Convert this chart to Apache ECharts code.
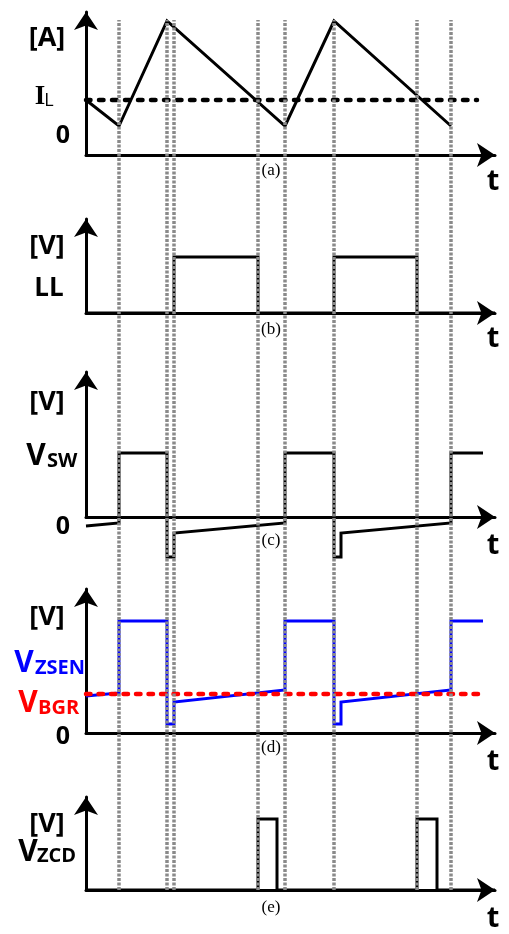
<!DOCTYPE html>
<html>
<head>
<meta charset="utf-8">
<script src="https://cdn.jsdelivr.net/npm/echarts@6/dist/echarts.min.js"></script>
<style>
  html, body { margin: 0; padding: 0; background: #fff; }
  #chart { width: 509px; height: 934px; }
</style>
</head>
<body>
<div id="chart"></div>
<script>
// Shared time axis (arbitrary units) for all five waveforms
const T_MAX = 409;

// Switching instants, marked by dotted guides through every panel
const eventTimes = [33, 81, 88, 172, 199, 248, 331, 365];

// (a) inductor current I_L and its average level
const iL = [[0, 55], [33, 29], [81, 134], [199, 29], [248, 134], [365, 29]];
const iLAvg = [[0, 55], [391, 55]];

// (b) low-side gate signal LL
const ll = [[0, 0], [88, 0], [88, 56], [172, 56], [172, 0], [248, 0], [248, 56], [331, 56], [331, 0], [409, 0]];

// (c) switching node voltage V_SW
const vSw = [[0, -9], [33, -6], [33, 64], [81, 64], [81, -40], [88, -40], [88, -16], [199, -6], [199, 64],
             [248, 64], [248, -40], [255, -40], [255, -16], [365, -6], [365, 64], [397, 64]];

// (d) zero-current sense voltage V_ZSEN and bandgap reference V_BGR
const vZsen = [[0, 37], [33, 40], [33, 112], [81, 112], [81, 9], [88, 9], [88, 31], [199, 43], [199, 112],
               [248, 112], [248, 9], [255, 9], [255, 31], [365, 43], [365, 112], [397, 112]];
const vBgr = [[0, 39], [394, 39]];

// (e) zero-current detector output V_ZCD
const vZcd = [[0, 0], [172, 0], [172, 71], [191, 71], [191, 0], [331, 0], [331, 71], [351, 71], [351, 0], [409, 0]];

// Panel frames: top of the y axis and the x-axis baseline (px)
const panels = [
  { top: 12, axis: 155 },
  { top: 219, axis: 313 },
  { top: 372, axis: 517 },
  { top: 589, axis: 733 },
  { top: 797, axis: 890 }
];

const LEFT = 86, RIGHT = 14;
const AXIS_W = 3;
const sans = '"Open Sans", "DejaVu Sans", sans-serif';
const serif = '"Liberation Serif", "DejaVu Serif", serif';

const grids = [], xAxes = [], yAxes = [];
panels.forEach((p, i) => {
  grids.push({ left: LEFT, right: RIGHT, top: p.top, height: p.axis - p.top });
  xAxes.push({
    type: 'value', gridIndex: i, min: 0, max: T_MAX,
    axisLine: { show: true, symbol: ['none', 'arrow'], symbolSize: [18, 18],
                lineStyle: { color: '#000', width: AXIS_W } },
    axisTick: { show: false }, axisLabel: { show: false }, splitLine: { show: false }
  });
  yAxes.push({
    type: 'value', gridIndex: i, min: 0, max: p.axis - p.top,
    axisLine: { show: true, symbol: ['none', 'arrow'], symbolSize: [18, 18],
                lineStyle: { color: '#000', width: AXIS_W } },
    axisTick: { show: false }, axisLabel: { show: false }, splitLine: { show: false }
  });
});

// Overlay grid for the dotted switching guides
grids.push({ left: LEFT, right: RIGHT, top: 20, bottom: 934 - 890 });
xAxes.push({ type: 'value', gridIndex: 5, min: 0, max: T_MAX, show: false });
yAxes.push({ type: 'value', gridIndex: 5, min: 0, max: 1, show: false });

function wave(data, idx, color, width, extra) {
  return Object.assign({
    type: 'line', xAxisIndex: idx, yAxisIndex: idx, data: data,
    showSymbol: false, symbol: 'none', clip: false, silent: true, z: 3,
    lineStyle: { color: color, width: width, join: 'miter' }
  }, extra || {});
}

const series = [
  wave(iL, 0, '#000', 3),
  wave(iLAvg, 0, '#000', 4.5, { lineStyle: { color: '#000', width: 4.5, type: [4.5, 8.5], cap: 'round' } }),
  wave(ll, 1, '#000', 3),
  wave(vSw, 2, '#000', 3),
  wave(vZsen, 3, '#0000ff', 3),
  wave(vBgr, 3, '#ff0000', 4.5, { z: 4, lineStyle: { color: '#ff0000', width: 4.5, type: [4.5, 8], cap: 'round' } }),
  wave(vZcd, 4, '#000', 3),
  {
    type: 'line', xAxisIndex: 5, yAxisIndex: 5, data: [], silent: true, z: 5,
    markLine: {
      silent: true, symbol: 'none', animation: false,
      label: { show: false },
      lineStyle: { color: '#8a8a8a', width: 3.5, type: [3, 1.5], opacity: 1 },
      data: eventTimes.map(t => ({ xAxis: t }))
    }
  }
];

function txt(x, y, text, size, color, family, weight, align) {
  return {
    type: 'text', x: x, y: y, silent: true, z: 10,
    style: {
      text: text, fill: color || '#000', font: (weight || 'bold') + ' ' + size + 'px ' + (family || sans),
      align: align || 'center', verticalAlign: 'middle'
    }
  };
}

const graphics = [
  // (a)
  txt(47, 38, '[A]', 27),
  txt(40, 97, 'I', 27, '#000', serif),
  txt(49, 101, 'L', 18, '#000', sans, 'normal'),
  txt(63, 136, '0', 25),
  // (b)
  txt(47, 246, '[V]', 27),
  txt(49, 289, 'LL', 26),
  // (c)
  txt(47, 402, '[V]', 27),
  txt(36, 456, 'V', 30, '#000', sans, 'bold', 'center'),
  txt(47, 461, 'SW', 20, '#000', sans, 'bold', 'left'),
  txt(63, 527, '0', 25),
  // (d)
  txt(47, 617, '[V]', 27),
  txt(24, 663, 'V', 30, '#0000ff'),
  txt(35, 668, 'ZSEN', 20, '#0000ff', sans, 'bold', 'left'),
  txt(28, 703, 'V', 30, '#ff0000'),
  txt(38, 708, 'BGR', 20, '#ff0000', sans, 'bold', 'left'),
  txt(63, 737, '0', 25),
  // (e)
  txt(47, 824, '[V]', 27),
  txt(28, 852, 'V', 30),
  txt(37, 856, 'ZCD', 20, '#000', sans, 'bold', 'left'),
  // sub-figure captions
  txt(271, 171, '(a)', 17, '#000', serif, 'normal'),
  txt(271, 330, '(b)', 17, '#000', serif, 'normal'),
  txt(271, 541, '(c)', 17, '#000', serif, 'normal'),
  txt(271, 748, '(d)', 17, '#000', serif, 'normal'),
  txt(271, 908, '(e)', 17, '#000', serif, 'normal'),
  // time-axis names
  txt(493, 182, 't', 29),
  txt(493, 339, 't', 29),
  txt(493, 546, 't', 29),
  txt(493, 762, 't', 29),
  txt(493, 919, 't', 29)
];

const chart = echarts.init(document.getElementById('chart'), null, { renderer: 'canvas' });
chart.setOption({
  animation: false,
  backgroundColor: '#fff',
  grid: grids,
  xAxis: xAxes,
  yAxis: yAxes,
  series: series,
  graphic: graphics
});
</script>
</body>
</html>
